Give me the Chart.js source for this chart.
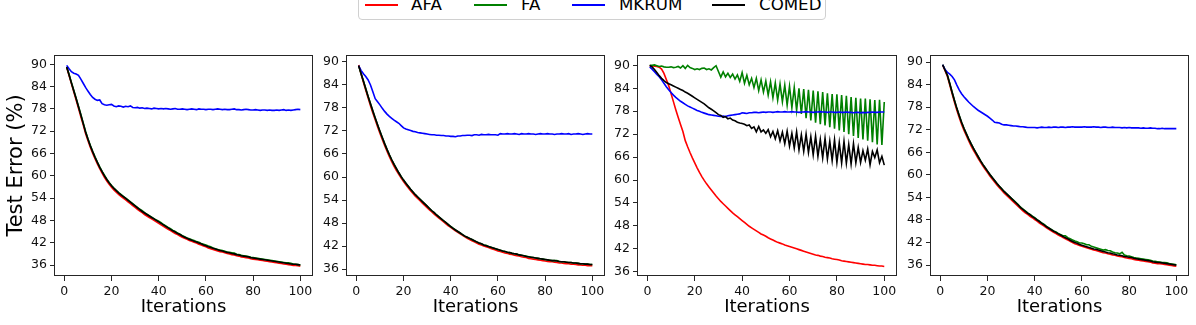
<!DOCTYPE html>
<html>
<head>
<meta charset="utf-8">
<script src="https://cdn.jsdelivr.net/npm/chart.js@4.4.1/dist/chart.umd.min.js"></script>
<style>
  html, body { margin: 0; padding: 0; background: #fff; }
  #wrap { position: relative; width: 1196px; height: 325px; overflow: hidden; font-family: "DejaVu Sans", sans-serif; }
  #wrap canvas { position: absolute; left: 0; top: 0; }
  #legend { position: absolute; left: 358px; top: -10px; width: 466px; height: 28px; border: 1px solid #d0d0d0; border-radius: 4px; background: #fff; }
  .lg-line { position: absolute; top: 3px; height: 1.6px; width: 33px; }
  .lg-text { position: absolute; top: -4px; font-size: 16.67px; line-height: 16.67px; color: #000; white-space: nowrap; }
</style>
</head>
<body>
<div id="wrap">
  <canvas id="c1" width="1196" height="325"></canvas>
  <canvas id="c2" width="1196" height="325"></canvas>
  <canvas id="c3" width="1196" height="325"></canvas>
  <canvas id="c4" width="1196" height="325"></canvas>
  <div id="legend"></div>
</div>
<script>
// ---------------- data ----------------
const iterations = Array.from({length: 100}, (_, i) => i + 1);
const xTicks = [0, 20, 40, 60, 80, 100];
const yTicks = [36, 42, 48, 54, 60, 66, 72, 78, 84, 90];
const seriesNames = ['AFA', 'FA', 'MKRUM', 'COMED'];
const yLabel = 'Test Error (%)';
const xLabel = 'Iterations';

// Panel 1
const p1AFA = [89.2,87.0,84.8,82.6,80.4,78.2,75.9,73.7,71.4,69.5,
 67.7,66.1,64.6,63.2,61.9,60.7,59.6,58.6,57.7,56.9,
 56.2,55.6,55.0,54.5,54.0,53.5,53.0,52.5,52.0,51.5,
 51.0,50.5,50.1,49.6,49.2,48.8,48.4,48.0,47.6,47.2,
 46.8,46.4,46.0,45.6,45.3,44.9,44.5,44.2,43.8,43.5,
 43.2,42.9,42.6,42.4,42.1,41.9,41.6,41.4,41.1,40.9,
 40.6,40.4,40.2,40.0,39.8,39.6,39.5,39.3,39.1,39.0,
 38.8,38.7,38.5,38.4,38.2,38.1,38.0,37.9,37.7,37.6,
 37.5,37.4,37.3,37.2,37.1,37.0,36.9,36.8,36.7,36.6,
 36.5,36.4,36.3,36.2,36.1,36.0,35.9,35.9,35.8,35.7];
const p1FA = [89.3,87.3,85.1,83.0,80.9,78.7,76.5,74.2,72.0,70.0,
 68.2,66.6,65.1,63.7,62.4,61.2,60.2,59.1,58.2,57.4,
 56.7,56.1,55.5,55.0,54.5,54.0,53.5,53.0,52.5,52.0,
 51.5,51.0,50.6,50.1,49.7,49.3,48.9,48.5,48.1,47.8,
 47.4,46.9,46.5,46.1,45.8,45.3,45.0,44.6,44.3,43.9,
 43.6,43.3,43.1,42.8,42.6,42.3,42.1,41.8,41.6,41.4,
 41.1,40.9,40.6,40.4,40.2,40.0,39.9,39.7,39.5,39.4,
 39.3,39.2,38.9,38.8,38.6,38.5,38.4,38.3,38.1,38.0,
 37.9,37.8,37.7,37.6,37.5,37.4,37.3,37.2,37.1,37.0,
 36.9,36.8,36.7,36.6,36.6,36.5,36.3,36.2,36.1,36.0];
const p1MKRUM = [89.7,88.8,88.0,87.6,87.4,87.0,86.0,84.9,83.8,82.8,
 81.9,81.1,80.6,80.3,80.4,79.4,79.1,79.0,79.1,79.2,
 78.8,78.6,78.8,78.7,78.5,78.7,78.6,78.8,78.4,78.3,
 78.4,78.2,78.3,78.1,78.2,78.1,78.0,78.2,78.1,78.0,
 78.1,78.0,78.1,78.0,77.9,78.0,78.1,77.9,77.9,78.0,
 77.9,77.8,77.9,78.0,77.9,77.8,78.0,77.9,77.9,77.8,
 77.9,77.9,77.8,77.9,78.0,77.9,77.8,77.9,77.8,77.8,
 77.9,78.0,77.8,77.8,77.7,77.8,77.9,77.8,77.7,77.7,
 77.8,77.7,77.6,77.7,77.7,77.6,77.7,77.6,77.6,77.7,
 77.6,77.7,77.8,77.6,77.7,77.6,77.7,77.8,77.9,77.8];
const p1COMED = [89.3,87.2,85.0,82.9,80.8,78.6,76.4,74.1,71.8,69.9,
 68.1,66.5,65.0,63.6,62.3,61.1,60.0,59.0,58.1,57.3,
 56.6,56.0,55.4,54.9,54.4,53.9,53.4,52.9,52.4,51.9,
 51.4,50.9,50.4,50.0,49.6,49.2,48.8,48.4,48.0,47.6,
 47.2,46.8,46.4,46.0,45.6,45.2,44.9,44.5,44.2,43.8,
 43.5,43.2,42.9,42.7,42.4,42.2,41.9,41.7,41.4,41.2,
 40.9,40.7,40.5,40.3,40.1,39.9,39.8,39.6,39.4,39.3,
 39.1,39.0,38.8,38.7,38.5,38.4,38.3,38.2,38.0,37.9,
 37.8,37.7,37.6,37.5,37.4,37.3,37.2,37.1,37.0,36.9,
 36.8,36.7,36.6,36.5,36.4,36.3,36.2,36.2,36.1,36.0];

// Panel 2
const p2AFA = [89.2,86.9,84.7,82.6,80.6,78.6,76.7,74.9,73.1,71.4,
 69.8,68.2,66.7,65.3,64.0,62.8,61.7,60.7,59.7,58.8,
 58.0,57.2,56.4,55.7,55.0,54.4,53.8,53.2,52.6,52.0,
 51.4,50.9,50.3,49.8,49.3,48.8,48.3,47.8,47.3,46.9,
 46.4,46.0,45.6,45.2,44.8,44.4,44.0,43.7,43.4,43.1,
 42.8,42.5,42.3,42.0,41.8,41.6,41.4,41.2,41.0,40.7,
 40.6,40.4,40.2,40.1,39.9,39.8,39.6,39.5,39.4,39.2,
 39.1,39.0,38.8,38.7,38.6,38.5,38.4,38.3,38.2,38.1,
 38.0,37.9,37.9,37.8,37.7,37.6,37.6,37.5,37.4,37.4,
 37.3,37.3,37.2,37.1,37.1,37.0,37.0,36.9,36.9,36.9];
const p2FA = [89.0,87.0,85.0,83.0,81.0,79.1,77.2,75.4,73.6,71.9,
 70.3,68.7,67.2,65.8,64.5,63.3,62.2,61.1,60.1,59.2,
 58.4,57.6,56.8,56.1,55.4,54.8,54.2,53.6,53.0,52.4,
 51.8,51.2,50.7,50.1,49.6,49.1,48.6,48.1,47.6,47.1,
 46.7,46.2,45.8,45.4,45.0,44.6,44.3,44.0,43.7,43.4,
 43.1,42.8,42.6,42.3,42.2,41.9,41.7,41.5,41.3,41.1,
 40.9,40.7,40.6,40.4,40.3,40.1,40.0,39.9,39.7,39.6,
 39.5,39.4,39.2,39.1,39.0,38.9,38.8,38.7,38.6,38.5,
 38.4,38.3,38.2,38.2,38.2,38.0,37.9,37.9,37.8,37.7,
 37.7,37.6,37.6,37.5,37.4,37.4,37.3,37.3,37.2,37.2];
const p2MKRUM = [89.0,87.8,86.9,86.2,85.3,84.0,82.2,80.4,79.6,78.8,
 77.9,77.1,76.4,75.8,75.3,74.8,74.4,74.0,73.4,72.8,
 72.5,72.3,72.1,71.9,71.8,71.6,71.5,71.4,71.3,71.2,
 71.1,71.0,71.0,70.9,70.9,70.8,70.8,70.7,70.7,70.6,
 70.6,70.5,70.7,70.7,70.8,70.8,70.9,70.9,70.8,71.0,
 71.0,70.9,71.1,71.0,71.0,71.1,71.0,71.0,71.0,70.9,
 71.3,71.2,71.2,71.3,71.2,71.2,71.3,71.2,71.1,71.3,
 71.2,71.2,71.3,71.2,71.2,71.1,71.2,71.3,71.2,71.2,
 71.3,71.2,71.2,71.1,71.2,71.2,71.3,71.2,71.2,71.3,
 71.1,71.2,71.2,71.3,71.2,71.1,71.2,71.3,71.2,71.2];
const p2COMED = [89.0,87.0,85.0,83.0,81.0,79.1,77.2,75.4,73.6,71.9,
 70.3,68.7,67.2,65.8,64.5,63.3,62.2,61.1,60.1,59.2,
 58.4,57.6,56.8,56.1,55.4,54.8,54.2,53.6,53.0,52.4,
 51.8,51.2,50.7,50.1,49.6,49.1,48.6,48.1,47.6,47.1,
 46.6,46.2,45.8,45.4,45.0,44.6,44.3,44.0,43.7,43.4,
 43.1,42.8,42.6,42.3,42.1,41.9,41.7,41.5,41.3,41.1,
 40.9,40.7,40.6,40.4,40.3,40.1,40.0,39.9,39.7,39.6,
 39.5,39.3,39.2,39.1,39.0,38.9,38.8,38.7,38.6,38.5,
 38.4,38.3,38.2,38.2,38.1,38.0,37.9,37.9,37.8,37.7,
 37.7,37.6,37.6,37.5,37.4,37.4,37.3,37.3,37.2,37.2];

// Panel 3
const p3AFA = [89.8,89.9,89.8,89.7,89.5,89.0,87.9,86.3,84.7,82.6,
 80.5,78.4,76.4,74.5,72.7,70.3,68.7,67.2,65.8,64.5,
 63.2,62.0,60.9,59.9,59.0,58.2,57.4,56.6,55.8,55.1,
 54.4,53.8,53.2,52.6,52.0,51.4,50.9,50.4,49.9,49.4,
 48.9,48.4,47.9,47.5,47.1,46.7,46.3,45.9,45.6,45.3,
 44.9,44.6,44.3,44.0,43.7,43.5,43.3,43.0,42.8,42.6,
 42.4,42.2,42.0,41.8,41.6,41.4,41.2,41.0,40.8,40.6,
 40.4,40.3,40.1,40.0,39.8,39.7,39.6,39.4,39.3,39.2,
 39.1,38.9,38.8,38.7,38.6,38.5,38.4,38.3,38.2,38.1,
 38.0,37.9,37.9,37.8,37.7,37.7,37.6,37.5,37.5,37.4];
const p3FA = [90.0,90.0,90.1,89.9,89.7,89.8,89.6,89.5,89.5,89.6,
 89.4,89.5,89.7,89.3,89.9,89.2,90.0,89.4,89.2,88.9,
 89.1,88.9,89.2,89.3,88.9,89.1,88.8,89.4,89.9,88.4,
 86.9,88.3,87.0,87.9,86.8,87.7,86.4,87.5,85.8,88.1,
 85.3,87.4,84.9,86.6,84.2,86.6,83.4,86.2,83.0,85.9,
 82.2,85.7,81.5,85.4,80.9,85.1,80.5,84.8,79.6,84.5,
 78.9,84.2,78.2,84.0,77.3,83.8,76.2,83.6,75.6,83.4,
 75.0,83.2,74.6,83.0,74.3,82.7,73.8,82.5,73.4,82.4,
 73.0,82.2,72.6,82.0,72.0,81.7,71.5,81.5,71.0,81.3,
 70.6,81.3,70.3,81.1,69.9,80.9,69.3,81.0,69.2,80.4];
const p3MKRUM = [89.6,89.0,88.3,87.6,87.0,86.2,85.3,84.4,83.6,82.9,
 82.2,81.6,81.1,80.6,80.2,79.8,79.4,79.1,78.8,78.5,
 78.2,78.0,77.7,77.5,77.3,77.1,77.0,76.9,76.8,76.7,
 76.6,76.7,76.6,76.8,76.9,77.0,77.1,77.2,77.3,77.6,
 77.5,77.4,77.6,77.6,77.7,77.7,77.6,77.7,77.8,77.7,
 77.8,77.8,77.7,77.8,77.9,77.8,77.8,77.9,77.8,77.8,
 77.9,77.8,77.8,77.7,77.8,77.8,77.9,77.8,77.8,77.7,
 77.8,77.8,77.9,77.8,77.8,77.7,77.8,77.8,77.7,77.7,
 77.8,77.7,77.7,77.8,77.7,77.7,77.6,77.7,77.7,77.6,
 77.7,77.6,77.7,77.7,77.8,77.7,77.7,77.8,77.8,77.8];
const p3COMED = [90.0,89.6,88.9,88.1,87.3,86.6,86.0,85.5,85.2,84.9,
 84.6,84.3,84.0,83.7,83.4,83.0,82.7,82.3,81.9,81.5,
 81.1,80.7,80.3,79.9,79.4,78.9,78.5,78.1,77.6,77.1,
 76.9,76.4,76.6,76.0,76.2,75.7,75.5,75.1,74.9,74.8,
 74.6,74.2,74.4,73.5,73.9,72.6,74.0,72.6,73.1,72.2,
 73.2,71.3,72.7,70.8,72.9,70.2,72.5,69.5,72.8,68.9,
 72.2,68.4,72.6,67.9,71.8,67.5,72.0,67.2,71.3,66.6,
 71.5,66.2,70.6,65.8,70.9,65.5,70.2,65.1,70.5,64.6,
 69.8,64.5,70.1,64.4,69.3,64.2,69.5,64.5,68.5,64.6,
 67.7,65.2,68.1,64.0,67.5,65.9,67.9,64.5,66.2,63.9];

// Panel 4
const p4AFA = [89.2,87.7,86.2,83.9,81.6,79.3,77.2,75.3,73.5,71.9,
 70.5,69.1,67.8,66.6,65.5,64.4,63.4,62.4,61.5,60.6,
 59.7,58.9,58.1,57.3,56.6,55.9,55.2,54.6,54.0,53.4,
 52.8,52.2,51.6,51.0,50.4,49.9,49.5,49.0,48.6,48.1,
 47.7,47.2,46.8,46.4,45.9,45.5,45.1,44.7,44.4,44.0,
 43.7,43.3,43.0,42.7,42.3,42.0,41.7,41.5,41.2,41.0,
 40.8,40.6,40.4,40.2,40.0,39.9,39.7,39.5,39.3,39.2,
 39.0,38.9,38.7,38.6,38.4,38.3,38.2,38.0,37.9,37.8,
 37.7,37.5,37.4,37.3,37.2,37.1,37.0,36.9,36.8,36.6,
 36.5,36.4,36.4,36.3,36.2,36.1,36.0,35.9,35.8,35.7];
const p4FA = [89.3,87.9,86.5,84.3,82.0,79.8,77.7,75.8,74.0,72.4,
 71.0,69.6,68.3,67.1,66.0,64.9,63.8,62.8,61.9,61.0,
 60.1,59.3,58.5,57.7,57.0,56.3,55.6,55.0,54.4,53.8,
 53.3,52.7,52.1,51.4,50.9,50.4,49.9,49.5,49.0,48.6,
 48.1,47.7,47.2,46.8,46.3,45.9,45.5,45.1,44.8,44.4,
 44.1,43.8,43.8,43.3,43.0,42.7,42.4,42.2,41.9,41.9,
 41.7,41.4,41.4,41.0,40.8,40.6,40.4,40.2,40.0,40.1,
 39.9,39.8,39.5,39.3,39.2,39.0,39.4,38.7,38.5,38.4,
 38.2,38.0,37.9,37.8,37.7,37.6,37.5,37.4,37.3,37.1,
 37.0,36.9,36.8,36.7,36.7,36.6,36.4,36.3,36.2,36.1];
const p4MKRUM = [89.3,88.0,87.3,86.8,86.2,85.3,83.9,82.6,81.6,80.8,
 80.1,79.4,78.8,78.2,77.7,77.2,76.8,76.4,76.0,75.6,
 75.1,74.6,74.0,73.9,73.8,73.5,73.3,73.3,73.2,73.1,
 73.0,73.0,72.9,72.8,72.8,72.7,72.6,72.6,72.6,72.6,
 72.5,72.6,72.7,72.6,72.6,72.7,72.6,72.7,72.7,72.6,
 72.7,72.7,72.6,72.7,72.7,72.8,72.7,72.7,72.7,72.7,
 72.8,72.7,72.7,72.7,72.8,72.7,72.7,72.6,72.7,72.7,
 72.6,72.6,72.7,72.6,72.6,72.6,72.5,72.6,72.5,72.6,
 72.5,72.5,72.5,72.5,72.4,72.5,72.4,72.4,72.5,72.4,
 72.4,72.3,72.3,72.4,72.3,72.3,72.3,72.3,72.3,72.3];
const p4COMED = [89.3,87.9,86.5,84.3,82.0,79.8,77.7,75.8,74.0,72.4,
 71.0,69.6,68.3,67.1,66.0,64.9,63.8,62.8,61.9,61.0,
 60.1,59.3,58.5,57.7,57.0,56.3,55.6,55.0,54.4,53.8,
 53.2,52.6,52.0,51.3,50.8,50.3,49.8,49.4,48.9,48.5,
 48.0,47.6,47.1,46.7,46.2,45.8,45.4,45.0,44.7,44.3,
 44.0,43.6,43.3,43.0,42.6,42.3,42.0,41.8,41.5,41.3,
 41.1,40.9,40.7,40.5,40.3,40.2,40.0,39.8,39.6,39.5,
 39.3,39.2,39.0,38.9,38.7,38.6,38.5,38.3,38.2,38.1,
 38.0,37.8,37.7,37.6,37.5,37.4,37.3,37.2,37.1,36.9,
 36.8,36.7,36.7,36.6,36.5,36.4,36.3,36.2,36.1,36.0];

// axis limits per panel (min, max)
const yMins = [33.05, 34.2, 34.9, 33.1];
const yMaxs = [92.5, 91.8, 92.7, 91.9];
const xMin = -3.95, xMax = 104.95;

// ---------------- styling / layout ----------------
const colors = ['#ff0000', '#008000', '#0000ff', '#000000'];
const FONT = '"DejaVu Sans", "Liberation Sans", sans-serif';
const W = 1196, H = 325;
const panelBoxes = [
  {left: 55, right: 312, yW: 55},
  {left: 347, right: 604, yW: 40},
  {left: 638, right: 896, yW: 40},
  {left: 931, right: 1188, yW: 40}
];
const plotTop = 55, xAxisH = 49;

const framePlugin = {
  id: 'frame',
  afterDatasetsDraw(chart) {
    const {ctx, chartArea: a} = chart;
    ctx.save();
    ctx.strokeStyle = '#262626';
    ctx.lineWidth = 1;
    ctx.strokeRect(Math.round(a.left) - 0.5, Math.round(a.top) + 0.5,
                   Math.round(a.right - a.left) + 1, Math.round(a.bottom - a.top) - 1);
    ctx.restore();
  }
};

function makePanel(canvasId, idx, series) {
  const box = panelBoxes[idx];
  const datasets = series.map((vals, k) => ({
    label: seriesNames[k],
    data: vals,
    borderColor: colors[k],
    backgroundColor: colors[k],
    borderWidth: 1.6,
    pointRadius: 0,
    tension: 0,
    fill: false,
    order: 3 - k
  }));
  new Chart(document.getElementById(canvasId), {
    type: 'line',
    data: { labels: iterations, datasets },
    options: {
      responsive: false,
      animation: false,
      devicePixelRatio: 1,
      events: [],
      layout: { padding: { left: box.left - box.yW, right: W - box.right, top: plotTop, bottom: 0 } },
      plugins: { legend: { display: false }, tooltip: { enabled: false } },
      scales: {
        x: {
          type: 'linear',
          min: xMin, max: xMax,
          afterBuildTicks: s => { s.ticks = xTicks.map(v => ({value: v})); },
          afterFit: s => { s.height = xAxisH; },
          grid: { drawOnChartArea: false, drawTicks: true, tickLength: 5, tickColor: '#262626' },
          border: { display: false },
          ticks: { color: '#111', font: { family: FONT, size: 12.5 }, padding: 3, maxRotation: 0, autoSkip: false },
          title: { display: true, text: xLabel, color: '#000', font: { family: FONT, size: 18, lineHeight: 1.2 }, padding: { top: 0, bottom: 7 } }
        },
        y: {
          type: 'linear',
          min: yMins[idx], max: yMaxs[idx],
          afterBuildTicks: s => { s.ticks = yTicks.map(v => ({value: v})); },
          afterFit: s => { s.width = box.yW; },
          grid: { drawOnChartArea: false, drawTicks: true, tickLength: 5, tickColor: '#262626' },
          border: { display: false },
          ticks: { color: '#111', font: { family: FONT, size: 12.5 }, padding: 3, autoSkip: false },
          title: idx === 0
            ? { display: true, text: yLabel, color: '#000', font: { family: FONT, size: 21, lineHeight: 1.2 }, padding: { top: 4, bottom: 0 } }
            : { display: false }
        }
      }
    },
    plugins: [framePlugin]
  });
}

makePanel('c1', 0, [p1AFA, p1FA, p1MKRUM, p1COMED]);
makePanel('c2', 1, [p2AFA, p2FA, p2MKRUM, p2COMED]);
makePanel('c3', 2, [p3AFA, p3FA, p3MKRUM, p3COMED]);
makePanel('c4', 3, [p4AFA, p4FA, p4MKRUM, p4COMED]);

// ---------------- shared legend ----------------
const legendLineX = [6, 115, 213, 353];
const legendTextX = [52, 162, 260, 400];
const legend = document.getElementById('legend');
seriesNames.forEach((name, k) => {
  const ln = document.createElement('div');
  ln.className = 'lg-line';
  ln.style.left = legendLineX[k] + 'px';
  ln.style.top = '13px';
  ln.style.background = colors[k];
  legend.appendChild(ln);
  const tx = document.createElement('div');
  tx.className = 'lg-text';
  tx.style.left = legendTextX[k] + 'px';
  tx.style.top = '6px';
  tx.textContent = name;
  legend.appendChild(tx);
});
</script>
</body>
</html>
